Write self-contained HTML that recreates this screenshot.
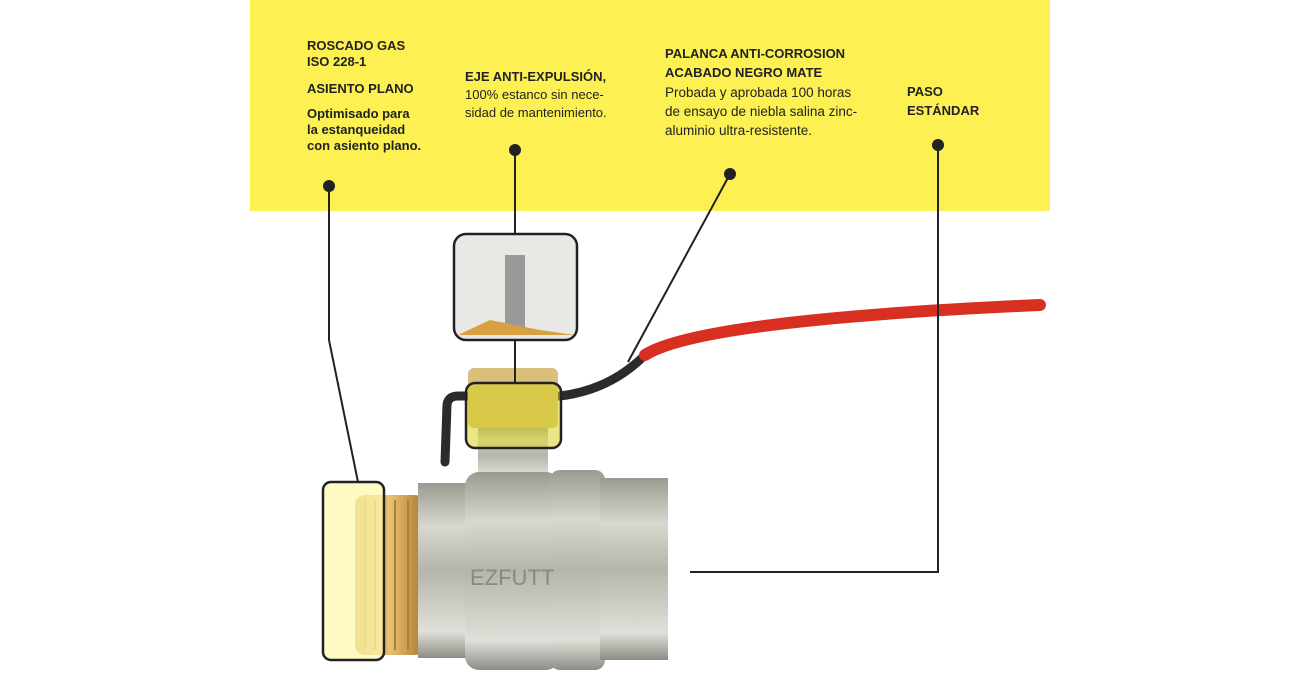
<!DOCTYPE html>
<html><head><meta charset="utf-8"><style>
body{margin:0;width:1300px;height:700px;background:#fff;overflow:hidden;position:relative;font-family:"Liberation Sans",sans-serif;color:#222}
.band{position:absolute;left:250px;top:0;width:800px;height:211px;background:#fcf052}
.t{position:absolute;font-size:13px;line-height:18px}
b{font-weight:bold}
</style></head><body>
<div class="band"></div>
<div class="t" style="left:307px;top:38px;font-size:13px;line-height:16px"><b>ROSCADO GAS<br>ISO 228-1</b></div>
<div class="t" style="left:307px;top:80px"><b>ASIENTO PLANO</b></div>
<div class="t" style="left:307px;top:106px;line-height:16px"><b>Optimisado para<br>la estanqueidad<br>con asiento plano.</b></div>
<div class="t" style="left:465px;top:68px"><b>EJE ANTI-EXPULSIÓN,</b><br>100% estanco sin nece-<br>sidad de mantenimiento.</div>
<div class="t" style="left:665px;top:44px;line-height:19px"><b>PALANCA ANTI-CORROSION<br>ACABADO NEGRO MATE</b></div>
<div class="t" style="left:665px;top:83px;line-height:19px;font-size:13.5px">Probada y aprobada 100 horas<br>de ensayo de niebla salina zinc-<br>aluminio ultra-resistente.</div>
<div class="t" style="left:907px;top:82px;line-height:19px"><b>PASO<br>ESTÁNDAR</b></div>
<svg width="1300" height="700" style="position:absolute;left:0;top:0">
<defs>
<linearGradient id="m" x1="0" y1="0" x2="0" y2="1"><stop offset="0" stop-color="#9a9a90"/><stop offset=".25" stop-color="#d8d8d0"/><stop offset=".5" stop-color="#b5b5aa"/><stop offset=".85" stop-color="#e0e0da"/><stop offset="1" stop-color="#8d8d85"/></linearGradient>
<linearGradient id="br" x1="0" y1="0" x2="1" y2="0"><stop offset="0" stop-color="#c89a3a"/><stop offset=".5" stop-color="#e8c070"/><stop offset="1" stop-color="#a87a30"/></linearGradient>
</defs>
<path d="M445 462 L447 405 Q448 396 458 396 L560 396 Q610 390 645 355" fill="none" stroke="#2b2b2b" stroke-width="9" stroke-linecap="round"/>
<path d="M645 355 Q700 320 1040 305" fill="none" stroke="#d83020" stroke-width="12" stroke-linecap="round"/>
<rect x="478" y="425" width="70" height="60" fill="url(#m)"/>
<rect x="468" y="368" width="90" height="60" rx="6" fill="#d9c07a"/>
<rect x="355" y="495" width="70" height="160" rx="10" fill="url(#br)"/>
<g stroke="#b08030" stroke-width="2" fill="none"><path d="M365 500 L365 650 M375 500 L375 650 M395 500 L395 650 M408 500 L408 650"/></g>
<rect x="418" y="483" width="60" height="175" fill="url(#m)"/>
<rect x="465" y="472" width="95" height="198" rx="14" fill="url(#m)"/>
<rect x="550" y="470" width="55" height="200" rx="10" fill="url(#m)"/>
<rect x="600" y="478" width="68" height="182" fill="url(#m)"/>
<text x="470" y="585" font-size="22" fill="#888" font-family="Liberation Sans">EZFUTT</text>
<rect x="323" y="482" width="61" height="178" rx="8" fill="#fff8b0" fill-opacity=".75" stroke="#222" stroke-width="2.5"/>
<rect x="466" y="383" width="95" height="65" rx="9" fill="#d8d020" fill-opacity=".55" stroke="#222" stroke-width="2.5"/>
<rect x="454" y="234" width="123" height="106" rx="12" fill="#e8e8e4" stroke="#222" stroke-width="2.5"/>
<rect x="505" y="255" width="20" height="80" fill="#999"/>
<path d="M458 335 L490 320 L540 330 L575 335 Z" fill="#d8a040"/>
<g stroke="#222" stroke-width="2" fill="none">
<path d="M329 186 L329 340 L358 482"/>
<path d="M515 150 L515 234 M515 340 L515 383"/>
<path d="M730 174 L628 362"/>
<path d="M938 145 L938 572 L690 572"/>
</g>
<g fill="#222"><circle cx="329" cy="186" r="6"/><circle cx="515" cy="150" r="6"/><circle cx="730" cy="174" r="6"/><circle cx="938" cy="145" r="6"/></g>
</svg>
</body></html>
